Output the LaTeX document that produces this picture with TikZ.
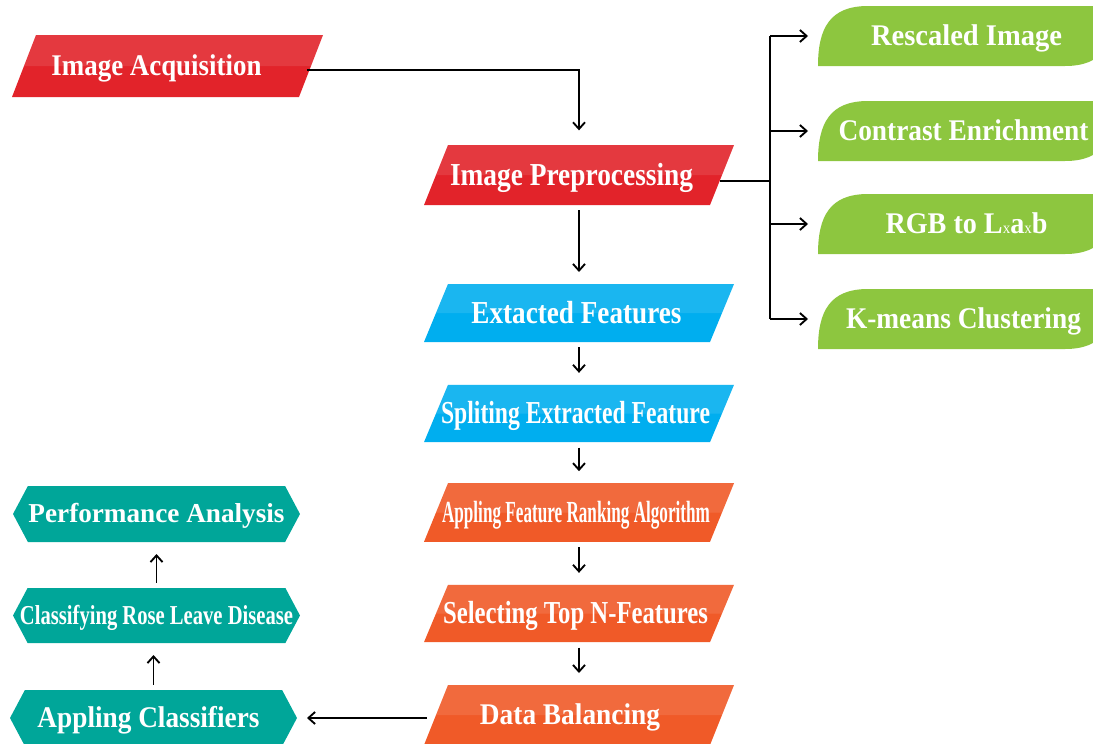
\documentclass[tikz,border=0pt]{standalone}
\usepackage{fontspec}
\setmainfont{Liberation Serif}
\usetikzlibrary{shapes.geometric,shapes.symbols,arrows.meta,calc,backgrounds}
\definecolor{cred}{RGB}{226,35,42}
\definecolor{cblue}{RGB}{0,174,239}
\definecolor{corange}{RGB}{240,90,40}
\definecolor{cgreen}{RGB}{141,198,63}
\definecolor{cteal}{RGB}{0,166,153}
% text box: optional horizontal shift (pt), target width (pt), text; capitals centred on the node centre
\newcommand\tx[3][0pt]{\makebox[0pt]{\kern#1\relax\raisebox{-0.5\fontcharht\font`\H}[0pt][0pt]{\resizebox{#2pt}{\height}{#3}}\kern-#1\relax}}
\newcommand\smx{{\fontsize{12}{12}\selectfont\mdseries x}}
\tikzset{
  base/.style={inner sep=0pt, outer sep=0pt, text=white, font=\fontsize{24}{25}\selectfont\bfseries},
  para/.style={base, rectangle, minimum width=232.5pt, minimum height=45pt,
    path picture={
      \fill[#1] (path picture bounding box.south west)
        -- ($(path picture bounding box.north west)+(24,0)$)
        -- (path picture bounding box.north east)
        -- ($(path picture bounding box.south east)+(-24,0)$) -- cycle;
      \fill[white,opacity=.1] ($(path picture bounding box.west)+(12,0)$)
        -- ($(path picture bounding box.north west)+(24,0)$)
        -- (path picture bounding box.north east)
        -- ($(path picture bounding box.east)+(-12,0)$) -- cycle;
    }},
  hexa/.style={base, signal, signal to=west and east, signal pointer angle=124,
    minimum width=215.25pt, minimum height=42pt, fill=cteal, font=\fontsize{20.5}{21}\selectfont\bfseries},
  leafnode/.style={base, rectangle, minimum width=222.75pt, minimum height=45pt, font=\fontsize{22.5}{23}\selectfont\bfseries},
  line/.style={draw=black, line width=1.1pt},
  arr/.style={line, -{Straight Barb[length=5pt,width=9pt,line width=1.4pt]}},
  vgap/.style={shorten <=4pt, shorten >=9pt},
}
\begin{document}
\begin{tikzpicture}[x=0.75pt,y=-0.75pt]
\useasboundingbox (0,0) rectangle (1093,743);
\clip (0,0) rectangle (1093,743);

% red
\node[para=cred, minimum width=233.25pt, minimum height=46.5pt, font=\fontsize{22.5}{23}\selectfont\bfseries] (acq) at (167.5,66) {\tx[-8.25pt]{157.5}{Image Acquisition}};
\node[para=cred] (prep) at (579,175) {\tx[-5.6pt]{182.25}{Image Preprocessing}};
% blue
\node[para=cblue, minimum height=43.5pt] (ext) at (579,313) {\tx[-1.9pt]{157.5}{Extacted Features}};
\node[para=cblue, minimum height=43pt] (spl) at (579,413.5) {\tx[-2.6pt]{201.75}{Spliting Extracted Feature}};
% orange
\node[para=corange, minimum height=44pt, font=\fontsize{23}{24}\selectfont\bfseries] (rank) at (579,512.5) {\tx[-2.25pt]{201}{Appling Feature Ranking Algorithm}};
\node[para=corange, minimum height=43pt] (sel) at (579,613.5) {\tx[-2.6pt]{198.75}{Selecting Top N-Features}};
\node[para=corange, font=\fontsize{22.5}{23}\selectfont\bfseries] (db) at (579,715) {\tx[-6.75pt]{135}{Data Balancing}};
% teal
\node[hexa] (perf) at (156.5,514) {\tx{192}{Performance Analysis}};
\node[hexa, minimum height=41.25pt] (cls) at (156.5,615.5) {\tx{204.75}{Classifying Rose Leave Disease}};
\node[hexa, font=\fontsize{22.5}{23}\selectfont\bfseries] (acl) at (153.5,718) {\tx[-3.75pt]{166.5}{Appling Classifiers}};
% green
\node[leafnode] (rs) at (966.5,36) {\tx{143.25}{Rescaled Image}};
\node[leafnode] (ce) at (966.5,131) {\tx[-2.25pt]{187.5}{Contrast Enrichment}};
\node[leafnode] (rgb) at (966.5,224) {\tx{121.5}{RGB to L\smx a\smx b}};
\node[leafnode] (km) at (966.5,319) {\tx[-2.25pt]{176.25}{K-means Clustering}};

\begin{pgfonlayer}{background}
\foreach \n in {rs,ce,rgb,km}{
  \begin{scope}[shift={(\n.south west)}]
    \fill[cgreen] (0,0) .. controls (0,-38) and (12,-60) .. (50,-60) -- (297,-60)
      .. controls (297,-22) and (285,0) .. (247,0) -- cycle;
  \end{scope}
}
\end{pgfonlayer}

\coordinate (bus) at (770,0);

% connectors
\draw[arr, shorten >=11pt] ($(acq.east)+(-16,4)$) -| (prep.north);
\draw[line] ($(prep.east)+(-14,6)$) -- (bus |- {$(prep.east)+(0,6)$});
\draw[line] (bus |- rs.west) -- (bus |- km.west);
\foreach \n in {rs,ce,rgb,km}{
  \draw[arr, shorten >=7.5pt] (bus |- \n.west) -- (\n.west);
}
\draw[arr, vgap] (prep.south) -- (ext.north);
\draw[arr, vgap] (ext.south) -- (spl.north);
\draw[arr, vgap] (spl.south) -- (rank.north);
\draw[arr, vgap] (rank.south) -- (sel.north);
\draw[arr, vgap] (sel.south) -- (db.north);
\draw[arr, shorten <=-2pt, shorten >=7.5pt] ($(db.west)+(0,3)$) -- (acl.east);
\draw[arr, vgap] (acl.north) -- (acl.north |- cls.south);
\draw[arr, vgap] (cls.north) -- (cls.north |- perf.south);
\end{tikzpicture}
\end{document}
